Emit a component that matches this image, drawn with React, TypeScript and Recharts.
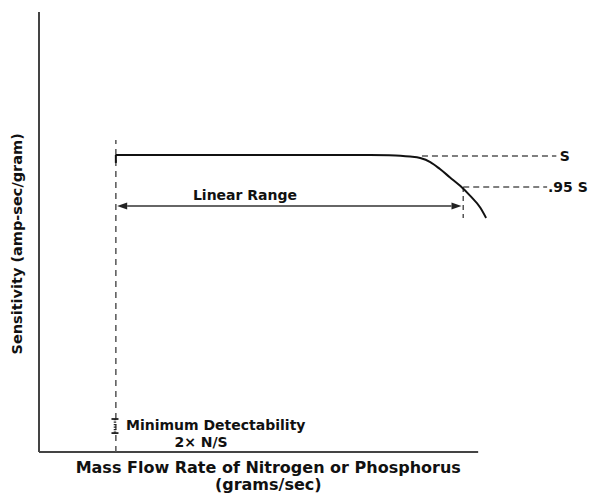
import React from 'react'
import {
  ComposedChart,
  Line,
  XAxis,
  YAxis,
  ReferenceLine,
  ReferenceDot
} from 'recharts'

// sensitivity curve: flat at S, then rolling off past the linear range
const flowRate = [17.5, 36.7, 59.5, 75.4, 79.7, 82.3, 84.5, 86.8, 89.1, 91.3, 93.6, 95.9, 98.2, 100.5, 101.8]
const sensitivity = [67.5, 67.5, 67.5, 67.5, 67.45, 67.35, 67.15, 66.8, 65.9, 64.3, 62.4, 60.5, 58.2, 55.5, 53.2]

// key levels
const sLevel = 67.3
const s95Level = 60.2
const minFlow = 17.5
const linearEnd = 96.6
const arrowLevel = 55.9
const noiseBar = [4.3, 7.5]

const labels = {
  s: 'S',
  s95: '.95 S',
  range: 'Linear Range',
  minDet: 'Minimum Detectability',
  noise: '2\u00d7 N/S',
  xTitle: 'Mass Flow Rate of Nitrogen or Phosphorus',
  xUnit: '(grams/sec)',
  yTitle: 'Sensitivity (amp-sec/gram)'
}

const data = flowRate.map((x, i) => ({ x, y: sensitivity[i] }))

const FONT = '"DejaVu Sans", Verdana, sans-serif'
const INK = '#111'
const DASH = '#555'

const textAt = (value: string, anchor: 'start' | 'middle', size = 14, rotate = false) => (p: any) => {
  const { x, y } = p.viewBox
  return (
    <text x={x} y={y} dy="0.35em" textAnchor={anchor} fontFamily={FONT}
      transform={rotate ? `rotate(-90 ${x} ${y})` : undefined}
      fontWeight="bold" fontSize={size} fill={INK}>
      {value}
    </text>
  )
}

const DoubleArrow = (p: any) => {
  const { x1, y1, x2 } = p
  const head = 10
  return (
    <g>
      <line x1={x1 + head} y1={y1} x2={x2 - head} y2={y1} stroke="#333" strokeWidth={1.5} />
      <polygon points={`${x1},${y1} ${x1 + head},${y1 - 3.5} ${x1 + head},${y1 + 3.5}`} fill="#222" />
      <polygon points={`${x2},${y1} ${x2 - head},${y1 - 3.5} ${x2 - head},${y1 + 3.5}`} fill="#222" />
    </g>
  )
}

const NoiseBar = (p: any) => {
  const { x1, y1, y2 } = p
  return (
    <g stroke="#222">
      <line x1={x1} y1={y1} x2={x1} y2={y2} strokeWidth={2.5} strokeDasharray="1.3 1.2" />
      <line x1={x1 - 3.5} y1={y1} x2={x1 + 3.5} y2={y1} strokeWidth={1.8} />
      <line x1={x1 - 3.5} y1={y2} x2={x1 + 3.5} y2={y2} strokeWidth={1.8} />
    </g>
  )
}

export default function App() {
  return (
    <ComposedChart width={589} height={487} data={data}
      margin={{ top: 4, right: 31, left: 31, bottom: 43 }}>
      <XAxis type="number" dataKey="x" domain={[0, 120]} hide />
      <YAxis type="number" domain={[0, 100]} hide />

      {/* axes drawn as segments: the x baseline stops short of the curve's tail */}
      <ReferenceLine segment={[{ x: 0, y: 0 }, { x: 100, y: 0 }]} stroke="#444" strokeWidth={2} ifOverflow="visible" />
      <ReferenceLine segment={[{ x: 0, y: 0 }, { x: 0, y: 100 }]} stroke="#444" strokeWidth={2} ifOverflow="visible" />

      <ReferenceLine segment={[{ x: minFlow, y: 0 }, { x: minFlow, y: 70.9 }]}
        stroke={DASH} strokeWidth={1.5} strokeDasharray="6 5" ifOverflow="visible" />
      <ReferenceLine segment={[{ x: 87.2, y: sLevel }, { x: 117.8, y: sLevel }]}
        stroke={DASH} strokeWidth={1.5} strokeDasharray="6 4" ifOverflow="visible" />
      <ReferenceLine segment={[{ x: linearEnd, y: s95Level }, { x: 115.7, y: s95Level }]}
        stroke={DASH} strokeWidth={1.5} strokeDasharray="6 4" ifOverflow="visible" />
      <ReferenceLine segment={[{ x: linearEnd, y: s95Level }, { x: linearEnd, y: 53.2 }]}
        stroke={DASH} strokeWidth={1.5} strokeDasharray="5 4" ifOverflow="visible" />

      <ReferenceLine segment={[{ x: 17.8, y: arrowLevel }, { x: 96.2, y: arrowLevel }]}
        shape={DoubleArrow} ifOverflow="visible" />
      <ReferenceLine segment={[{ x: 17.3, y: noiseBar[1] }, { x: 17.3, y: noiseBar[0] }]}
        shape={NoiseBar} ifOverflow="visible" />

      <ReferenceLine segment={[{ x: minFlow, y: 65.7 }, { x: minFlow, y: 67.5 }]}
        stroke="#111" strokeWidth={2} ifOverflow="visible" />
      <Line type="monotone" dataKey="y" stroke="#111" strokeWidth={2} dot={false}
        isAnimationActive={false} />

      <ReferenceDot x={118.6} y={sLevel} r={0} ifOverflow="visible" label={{ content: textAt(labels.s, 'start') }} />
      <ReferenceDot x={115.9} y={s95Level} r={0} ifOverflow="visible" label={{ content: textAt(labels.s95, 'start') }} />
      <ReferenceDot x={46.9} y={58.4} r={0} ifOverflow="visible" label={{ content: textAt(labels.range, 'middle') }} />
      <ReferenceDot x={19.8} y={6.1} r={0} ifOverflow="visible" label={{ content: textAt(labels.minDet, 'start') }} />
      <ReferenceDot x={36.9} y={2.3} r={0} ifOverflow="visible" label={{ content: textAt(labels.noise, 'middle') }} />

      {/* axis titles sit outside the plot */}
      <ReferenceDot x={52.2} y={-3.5} r={0} ifOverflow="visible" label={{ content: textAt(labels.xTitle, 'middle', 16) }} />
      <ReferenceDot x={52.2} y={-7.4} r={0} ifOverflow="visible" label={{ content: textAt(labels.xUnit, 'middle', 16) }} />
      <ReferenceDot x={-5.0} y={47.3} r={0} ifOverflow="visible" label={{ content: textAt(labels.yTitle, 'middle', 14.5, true) }} />
    </ComposedChart>
  )
}
